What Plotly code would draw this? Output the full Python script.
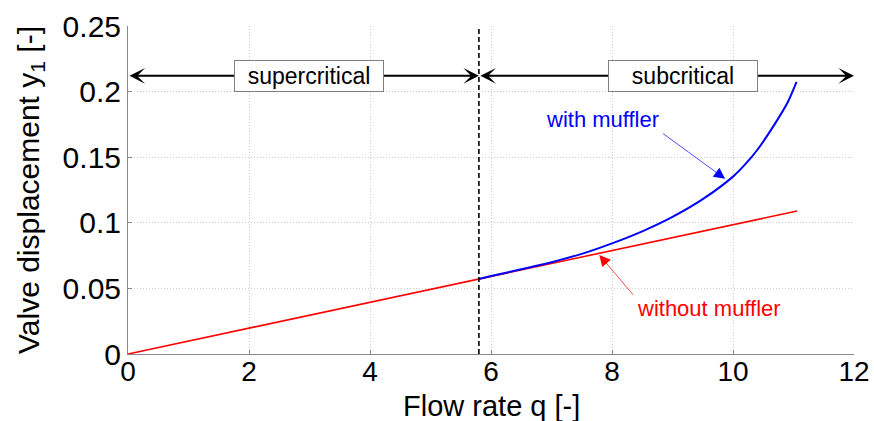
import plotly.graph_objects as go

# ---- data ----
q_without = [0.0, 2.0, 4.0, 5.8, 8.0, 10.0, 11.06]
y_without = [0.0, 0.0197, 0.0394, 0.0571, 0.0787, 0.0984, 0.109]

q_with = [5.8, 6.0, 6.5, 7.0, 7.5, 8.0, 8.5, 9.0, 9.5, 10.0, 10.2, 10.4, 10.7, 10.9, 11.05]
y_with = [0.0572, 0.0594, 0.0646, 0.0700, 0.0763, 0.0843, 0.0935, 0.1045, 0.1180,
          0.1352, 0.1445, 0.1555, 0.1760, 0.1915, 0.2075]

q_critical = 5.8
regime_y = 0.212
regime_labels = ["supercritical", "subcritical"]
regime_label_q = [2.99, 9.17]
x_ticks = [0, 2, 4, 6, 8, 10, 12]
y_ticks = [0, 0.05, 0.1, 0.15, 0.2, 0.25]
y_tick_labels = ["0", "0.05", "0.1", "0.15", "0.2", "0.25"]
x_range = [0, 12]
y_range = [0, 0.25]
x_title = "Flow rate q [-]"
y_title = "Valve displacement y<sub>1</sub> [-]"

FONT = "Liberation Sans, Arial, sans-serif"

fig = go.Figure()

fig.add_trace(go.Scatter(x=q_without, y=y_without, mode="lines",
                         line=dict(color="#ff0000", width=1.6), showlegend=False))
fig.add_trace(go.Scatter(x=q_with, y=y_with, mode="lines",
                         line=dict(color="#0000ff", width=2, shape="spline", smoothing=0.8),
                         showlegend=False))
fig.add_trace(go.Scatter(x=[q_critical, q_critical], y=y_range, mode="lines",
                         line=dict(color="black", width=1.6, dash="5px,3px"), showlegend=False))

# regime double arrows
for x0, x1 in [(x_range[0], q_critical), (q_critical, x_range[1])]:
    fig.add_annotation(x=x1, y=regime_y, ax=x0, ay=regime_y, xref="x", yref="y",
                       axref="x", ayref="y", text="", showarrow=True,
                       arrowside="end+start", arrowhead=3, startarrowhead=3,
                       arrowsize=1.3, startarrowsize=1.3, arrowwidth=2, arrowcolor="black",
                       standoff=0, startstandoff=0)

for lbl, qx in zip(regime_labels, regime_label_q):
    fig.add_annotation(x=qx, y=regime_y, xref="x", yref="y", text=lbl, showarrow=False,
                       font=dict(family=FONT, size=23, color="black"),
                       bgcolor="white", bordercolor="#808080", borderwidth=1,
                       width=148, height=30, borderpad=0)

# curve labels
fig.add_annotation(x=7.84, y=0.179, xref="x", yref="y", text="with muffler", showarrow=False,
                   font=dict(family=FONT, size=22, color="#0000ff"))
fig.add_annotation(x=9.87, y=0.1335, ax=8.82, ay=0.1688, xref="x", yref="y", axref="x", ayref="y",
                   text="", showarrow=True, arrowhead=2, arrowsize=3.2, arrowwidth=0.7,
                   arrowcolor="#0000ff", standoff=0)
fig.add_annotation(x=9.61, y=0.0347, xref="x", yref="y", text="without muffler", showarrow=False,
                   font=dict(family=FONT, size=22, color="#ff0000"))
fig.add_annotation(x=7.79, y=0.0755, ax=8.37, ay=0.044, xref="x", yref="y", axref="x", ayref="y",
                   text="", showarrow=True, arrowhead=2, arrowsize=3.2, arrowwidth=0.7,
                   arrowcolor="#ff0000", standoff=0)

# x-axis title as paper annotation (precise placement under the tick labels)
fig.add_annotation(x=0.5, y=-0.158, xref="paper", yref="paper", text=x_title, showarrow=False,
                   xanchor="center", yanchor="middle",
                   font=dict(family=FONT, size=29, color="black"))

fig.update_layout(
    width=874, height=421,
    margin=dict(l=128, r=20, t=26, b=67, autoexpand=False),
    paper_bgcolor="white", plot_bgcolor="white",
    font=dict(family=FONT, size=30, color="black"),
)
common = dict(showgrid=True, gridcolor="#cccccc", griddash="1px,2px", gridwidth=1,
              showline=True, linecolor="#888888", linewidth=1, zeroline=False,
              ticks="inside", ticklen=4, tickcolor="#888888", automargin=False)
fig.update_xaxes(range=x_range, tickvals=x_ticks, ticktext=[str(v) for v in x_ticks],
                 tickfont=dict(family=FONT, size=28), ticklabelstandoff=-8,
                 **common)
fig.update_yaxes(range=y_range, tickvals=y_ticks, ticktext=y_tick_labels,
                 tickfont=dict(family=FONT, size=30),
                 title=dict(text=y_title, font=dict(family=FONT, size=30), standoff=14),
                 **common)

fig.write_html("out.html")
